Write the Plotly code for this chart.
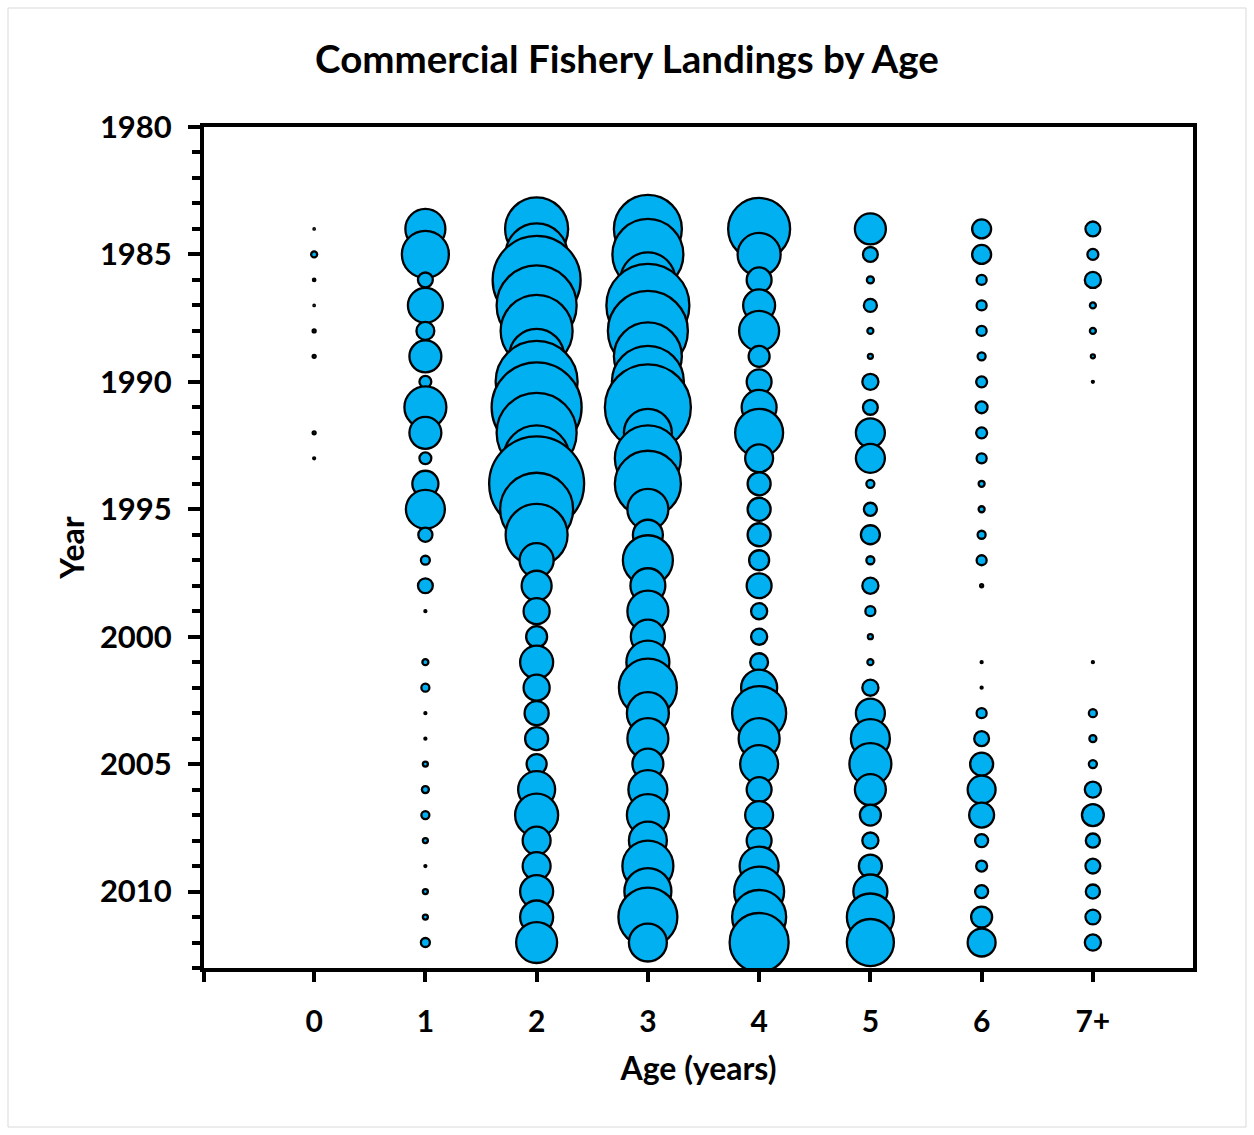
import plotly.graph_objects as go

# Commercial landings at age (thousands of fish), 1984-2012
years = [1984, 1985, 1986, 1987, 1988, 1989, 1990, 1991, 1992, 1993,
         1994, 1995, 1996, 1997, 1998, 1999, 2000, 2001, 2002, 2003,
         2004, 2005, 2006, 2007, 2008, 2009, 2010, 2011, 2012]

age_labels = ["0", "1", "2", "3", "4", "5", "6", "7+"]

age_0 = [0.2, 3.6, 0.6, 0.2, 0.9, 0.9, 0, 0, 0.9, 0.4,
         0, 0, 0, 0, 0, 0, 0, 0, 0, 0,
         0, 0, 0, 0, 0, 0, 0, 0, 0]
age_1 = [160, 221, 22, 122, 32, 102, 14, 176, 102, 14,
         68, 152, 20, 8, 22, 0.4, 0, 3.6, 6.4, 0.4,
         0.4, 2.5, 4.9, 6.4, 2.5, 0.4, 2.5, 2.5, 8.1]
age_2 = [397, 384, 774, 640, 518, 302, 672, 810, 640, 436,
         902, 533, 384, 116, 90, 68, 44, 109, 68, 58,
         53, 40, 137, 185, 78, 78, 109, 109, 168]
age_3 = [462, 504, 302, 689, 640, 462, 518, 740, 230, 436,
         436, 168, 90, 250, 122, 168, 116, 185, 336, 176,
         168, 96, 152, 176, 144, 260, 221, 348, 144]
age_4 = [384, 185, 62, 102, 160, 44, 62, 122, 230, 78,
         53, 53, 53, 40, 62, 26, 26, 32, 130, 292,
         168, 144, 62, 78, 62, 152, 250, 292, 348]
age_5 = [96, 22, 4.9, 17, 3.6, 2.5, 26, 22, 84, 84,
         6.4, 17, 36, 6.4, 26, 10, 2.5, 3.6, 26, 84,
         152, 176, 96, 44, 26, 53, 116, 221, 221]
age_6 = [36, 36, 10, 10, 10, 6.4, 12, 14, 12, 10,
         3.6, 3.6, 6.4, 10, 0.9, 0, 0, 0.4, 0.4, 10,
         22, 53, 78, 62, 17, 12, 17, 44, 78]
age_7plus = [22, 12, 26, 3.6, 3.6, 1.6, 0.4, 0, 0, 0,
             0, 0, 0, 0, 0, 0, 0, 0.4, 0, 6.4,
             4.9, 6.4, 26, 48, 20, 22, 20, 22, 26]

landings = [age_0, age_1, age_2, age_3, age_4, age_5, age_6, age_7plus]

FONT = "Lato"
BUBBLE = "#00B0F0"
X_MIN, X_MAX = -0.99, 7.9

fig = go.Figure()
for i, (label, series) in enumerate(zip(age_labels, landings)):
    ys = [y for y, v in zip(years, series) if v > 0]
    vs = [v for v in series if v > 0]
    fig.add_trace(go.Scatter(
        x=[i] * len(ys),
        y=ys,
        mode="markers",
        name=label,
        marker=dict(
            size=vs,
            sizemode="area",
            sizeref=0.2,
            sizemin=0,
            color=BUBBLE,
            opacity=1,
            line=dict(color="black", width=2.3),
        ),
        hovertemplate="Age " + label + "<br>%{y}: %{marker.size}<extra></extra>",
    ))

fig.update_layout(
    width=1254,
    height=1135,
    margin=dict(l=204, r=61, t=127, b=167),
    paper_bgcolor="white",
    plot_bgcolor="white",
    showlegend=False,
    font=dict(family=FONT, color="black"),
    title=dict(
        text="Commercial Fishery Landings by Age",
        font=dict(family=FONT, size=38.5, color="black", weight="bold"),
        x=0.5, xref="container", xanchor="center",
        y=1 - 60 / 1135, yref="container", yanchor="middle",
    ),
    xaxis=dict(
        range=[X_MIN, X_MAX],
        tickmode="array",
        tickvals=[X_MIN] + list(range(0, 8)),
        ticktext=[""] + age_labels,
        ticks="outside",
        ticklen=10,
        tickwidth=4,
        tickcolor="black",
        ticklabelstandoff=14,
        tickfont=dict(family=FONT, size=30, color="black", weight="bold"),
        showline=True,
        linewidth=4,
        linecolor="black",
        mirror=True,
        showgrid=False,
        zeroline=False,
        title=dict(text="Age (years)",
                   font=dict(family=FONT, size=32, color="black", weight="bold"),
                   standoff=22),
    ),
    yaxis=dict(
        range=[2013, 1980],
        tick0=1980,
        dtick=5,
        ticks="outside",
        ticklen=12,
        tickwidth=4,
        tickcolor="black",
        ticklabelstandoff=10,
        tickfont=dict(family=FONT, size=31, color="black", weight="bold"),
        minor=dict(dtick=1, tick0=1980, ticks="outside", ticklen=8,
                   tickwidth=4, tickcolor="black", showgrid=False),
        showline=True,
        linewidth=4,
        linecolor="black",
        mirror=True,
        showgrid=False,
        zeroline=False,
        title=dict(text="Year",
                   font=dict(family=FONT, size=32, color="black", weight="bold"),
                   standoff=7),
    ),
    shapes=[dict(
        type="rect", xref="paper", yref="paper",
        x0=(8 - 204) / 989, x1=(1246 - 204) / 989,
        y0=(968 - 1127) / 841, y1=(968 - 8) / 841,
        line=dict(color="#d9d9d9", width=1),
        fillcolor="rgba(0,0,0,0)", layer="below",
    )],
)

fig.write_html("out.html")
